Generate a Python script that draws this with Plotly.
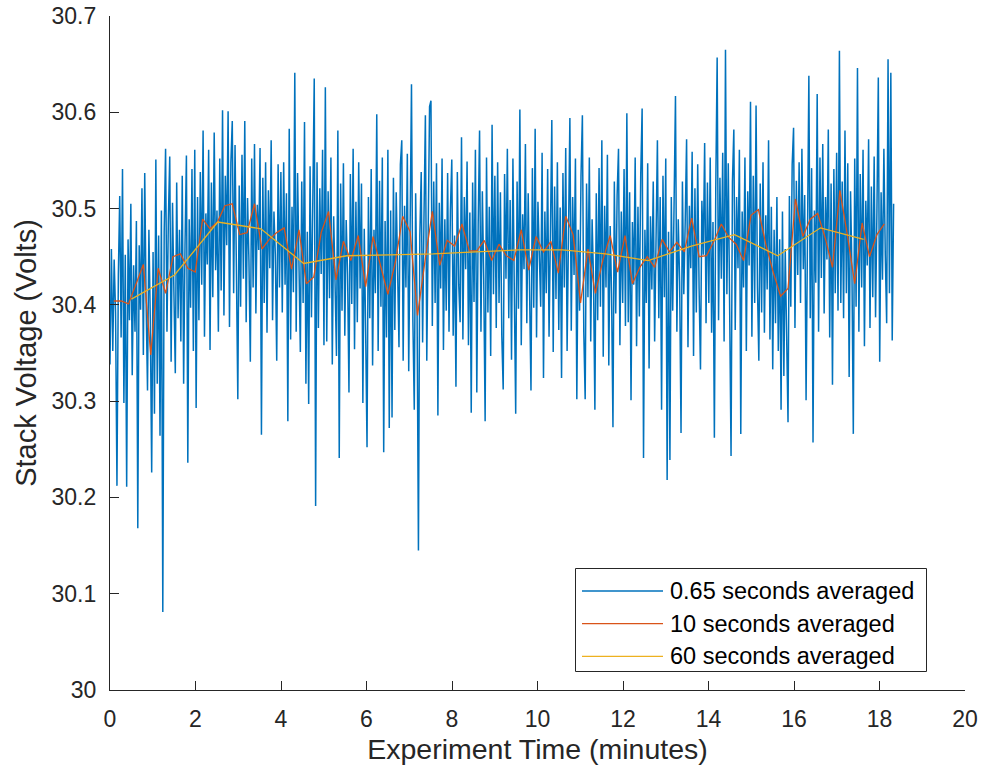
import numpy as np
import plotly.graph_objects as go

# ---------------------------------------------------------------------------
# Stack voltage record (volts). Raw trace points are spaced 1.95 s apart.
# ---------------------------------------------------------------------------
raw_step_min = 1.95 / 60.0
raw_volts = [
    # 0 - 1 min
    30.338, 30.458, 30.352, 30.447, 30.392, 30.212, 30.431, 30.513, 30.366, 30.541,
    30.298, 30.452, 30.211, 30.468, 30.384, 30.505, 30.327, 30.441, 30.372, 30.487,
    30.168, 30.462, 30.395, 30.521, 30.348, 30.537, 30.402, 30.311, 30.478, 30.386, 30.226,
    # 1 - 2 min
    30.455, 30.287, 30.551, 30.318, 30.472, 30.264, 30.498, 30.081, 30.476, 30.562,
    30.372, 30.488, 30.554, 30.341, 30.506, 30.413, 30.329, 30.527, 30.386, 30.478,
    30.362, 30.534, 30.318, 30.463, 30.555, 30.236, 30.489, 30.397, 30.541, 30.352, 30.561,
    # 2 - 3 min
    30.293, 30.512, 30.384, 30.538, 30.421, 30.581, 30.367, 30.495, 30.442, 30.561,
    30.353, 30.527, 30.408, 30.579, 30.436, 30.498, 30.372, 30.552, 30.415, 30.602,
    30.389, 30.534, 30.462, 30.601, 30.377, 30.548, 30.591, 30.412, 30.566, 30.438, 30.302,
    # 3 - 4 min
    30.524, 30.398, 30.556, 30.427, 30.591, 30.382, 30.511, 30.446, 30.341, 30.552,
    30.418, 30.567, 30.391, 30.504, 30.457, 30.563, 30.265, 30.532, 30.402, 30.548,
    30.371, 30.519, 30.438, 30.571, 30.384, 30.497, 30.452, 30.342, 30.546, 30.418, 30.538,
    # 4 - 5 min
    30.392, 30.548, 30.421, 30.516, 30.279, 30.583, 30.364, 30.502, 30.413, 30.641,
    30.372, 30.537, 30.446, 30.351, 30.528, 30.402, 30.590, 30.318, 30.476, 30.297,
    30.544, 30.387, 30.512, 30.635, 30.191, 30.548, 30.376, 30.521, 30.432, 30.561, 30.358,
    # 5 - 6 min
    30.626, 30.362, 30.518, 30.407, 30.553, 30.338, 30.492, 30.421, 30.347, 30.581,
    30.241, 30.526, 30.394, 30.547, 30.368, 30.488, 30.432, 30.309, 30.536, 30.401,
    30.562, 30.354, 30.507, 30.382, 30.548, 30.417, 30.526, 30.298, 30.479, 30.372, 30.252,
    # 6 - 7 min
    30.512, 30.386, 30.541, 30.337, 30.478, 30.412, 30.598, 30.352, 30.529, 30.398,
    30.553, 30.247, 30.487, 30.366, 30.561, 30.272, 30.498, 30.283, 30.532, 30.374,
    30.517, 30.408, 30.356, 30.546, 30.571, 30.342, 30.503, 30.418, 30.557, 30.331, 30.494,
    # 7 - 8 min
    30.629, 30.384, 30.291, 30.516, 30.398, 30.145, 30.472, 30.538, 30.361, 30.492,
    30.597, 30.342, 30.451, 30.606, 30.612, 30.378, 30.528, 30.402, 30.547, 30.285,
    30.506, 30.417, 30.552, 30.353, 30.489, 30.394, 30.537, 30.372, 30.498, 30.551, 30.368,
    # 8 - 9 min
    30.472, 30.315, 30.538, 30.421, 30.382, 30.574, 30.364, 30.512, 30.437, 30.549,
    30.358, 30.496, 30.288, 30.527, 30.403, 30.561, 30.309, 30.484, 30.581, 30.372,
    30.518, 30.426, 30.279, 30.553, 30.392, 30.502, 30.347, 30.587, 30.411, 30.534, 30.376,
    # 9 - 10 min
    30.548, 30.402, 30.517, 30.368, 30.312, 30.536, 30.427, 30.562, 30.386, 30.509,
    30.343, 30.552, 30.414, 30.287, 30.528, 30.396, 30.603, 30.358, 30.494, 30.437,
    30.567, 30.381, 30.516, 30.428, 30.311, 30.542, 30.397, 30.583, 30.366, 30.507, 30.442,
    # 10 - 11 min
    30.398, 30.558, 30.324, 30.497, 30.412, 30.541, 30.367, 30.476, 30.592, 30.351,
    30.523, 30.406, 30.548, 30.374, 30.501, 30.324, 30.537, 30.418, 30.563, 30.352,
    30.486, 30.594, 30.373, 30.512, 30.431, 30.552, 30.302, 30.478, 30.394, 30.534, 30.597,
    # 11 - 12 min
    30.372, 30.302, 30.526, 30.408, 30.553, 30.362, 30.489, 30.427, 30.291, 30.516,
    30.384, 30.542, 30.398, 30.571, 30.346, 30.503, 30.418, 30.556, 30.337, 30.482,
    30.412, 30.273, 30.528, 30.391, 30.514, 30.562, 30.358, 30.497, 30.402, 30.541, 30.378,
    # 12 - 13 min
    30.599, 30.382, 30.517, 30.301, 30.486, 30.421, 30.553, 30.357, 30.502, 30.388,
    30.536, 30.604, 30.241, 30.478, 30.402, 30.547, 30.334, 30.492, 30.416, 30.528,
    30.362, 30.481, 30.571, 30.386, 30.512, 30.291, 30.534, 30.408, 30.552, 30.218, 30.476,
    # 13 - 14 min
    30.239, 30.512, 30.394, 30.538, 30.617, 30.372, 30.489, 30.424, 30.267, 30.528,
    30.411, 30.486, 30.572, 30.356, 30.503, 30.438, 30.559, 30.347, 30.521, 30.392,
    30.546, 30.417, 30.333, 30.508, 30.452, 30.568, 30.381, 30.527, 30.402, 30.553, 30.371,
    # 14 - 15 min
    30.486, 30.262, 30.521, 30.657, 30.384, 30.532, 30.427, 30.558, 30.362, 30.665,
    30.411, 30.547, 30.396, 30.243, 30.528, 30.582, 30.374, 30.512, 30.438, 30.561,
    30.266, 30.497, 30.418, 30.553, 30.352, 30.518, 30.441, 30.611, 30.367, 30.534, 30.402,
    # 15 - 16 min
    30.607, 30.418, 30.342, 30.526, 30.392, 30.548, 30.371, 30.493, 30.416, 30.571,
    30.364, 30.502, 30.333, 30.478, 30.381, 30.512, 30.352, 30.468, 30.291, 30.497,
    30.326, 30.458, 30.372, 30.278, 30.513, 30.398, 30.546, 30.584, 30.376, 30.529, 30.431,
    # 16 - 17 min
    30.548, 30.402, 30.562, 30.437, 30.514, 30.301, 30.527, 30.638, 30.386, 30.542,
    30.257, 30.498, 30.423, 30.619, 30.372, 30.553, 30.428, 30.567, 30.391, 30.512,
    30.447, 30.582, 30.366, 30.526, 30.317, 30.541, 30.412, 30.558, 30.394, 30.664, 30.402,
    # 17 - 18 min
    30.528, 30.386, 30.581, 30.412, 30.547, 30.325, 30.518, 30.436, 30.266, 30.552,
    30.398, 30.646, 30.372, 30.536, 30.418, 30.561, 30.357, 30.508, 30.441, 30.572,
    30.376, 30.523, 30.408, 30.554, 30.387, 30.498, 30.636, 30.341, 30.517, 30.426, 30.562,
    # 18 min - end
    30.452, 30.381, 30.655, 30.412, 30.641, 30.363, 30.505,
]

# 10-second block averages (16 samples of 0.65 s), plotted at block centres
avg10_step_min = 10.4 / 60.0
avg10_volts = [
    30.404, 30.404, 30.401, 30.421, 30.442, 30.348, 30.438, 30.412, 30.450, 30.453,
    30.438, 30.434, 30.489, 30.479, 30.486, 30.503, 30.505, 30.473, 30.475, 30.505,
    30.458, 30.468, 30.475, 30.480, 30.437, 30.478, 30.422, 30.429, 30.475, 30.497,
    30.426, 30.466, 30.446, 30.472, 30.419, 30.471, 30.441, 30.411, 30.444, 30.492,
    30.476, 30.389, 30.445, 30.497, 30.441, 30.467, 30.461, 30.484, 30.456, 30.456,
    30.467, 30.446, 30.463, 30.451, 30.446, 30.478, 30.436, 30.471, 30.455, 30.466,
    30.433, 30.492, 30.473, 30.402, 30.458, 30.412, 30.446, 30.472, 30.434, 30.472,
    30.422, 30.439, 30.450, 30.439, 30.468, 30.455, 30.465, 30.455, 30.490, 30.450,
    30.451, 30.466, 30.484, 30.470, 30.463, 30.446, 30.493, 30.499, 30.463, 30.434,
    30.409, 30.417, 30.510, 30.471, 30.489, 30.495, 30.470, 30.439, 30.519, 30.473,
    30.422, 30.485, 30.450, 30.473, 30.484,
]

# 60-second block averages
avg60_minutes = [0.50, 1.51, 2.52, 3.53, 4.53, 5.54, 6.55, 7.56, 8.56,
                 9.57, 10.58, 11.59, 12.59, 13.60, 14.61, 15.62, 16.62, 17.63]
avg60_volts = [30.406, 30.431, 30.486, 30.479, 30.443, 30.451, 30.452, 30.453, 30.455,
               30.457, 30.457, 30.453, 30.446, 30.461, 30.473, 30.451, 30.480, 30.468]

series_names = ["0.65 seconds averaged", "10 seconds averaged", "60 seconds averaged"]
series_colors = ["#0072BD", "#D95319", "#EDB120"]
series_widths = [1.5, 1.3, 1.3]

x_ticks = [0, 2, 4, 6, 8, 10, 12, 14, 16, 18, 20]
y_ticks = [30, 30.1, 30.2, 30.3, 30.4, 30.5, 30.6, 30.7]

raw_minutes = np.arange(len(raw_volts)) * raw_step_min
avg10_minutes = (np.arange(len(avg10_volts)) + 0.5) * avg10_step_min

AXIS_COLOR = "#262626"
FONT = "Liberation Sans, Arial, Helvetica, sans-serif"

fig = go.Figure()
for xs, ys, name, color, width in zip(
    [raw_minutes, avg10_minutes, avg60_minutes],
    [raw_volts, avg10_volts, avg60_volts],
    series_names, series_colors, series_widths,
):
    fig.add_trace(go.Scatter(x=xs, y=ys, mode="lines", name=name,
                             line=dict(color=color, width=width),
                             showlegend=False, hoverinfo="x+y"))

# Plot-area geometry (pixels) used to place the boxed legend
W, H = 984, 775
ML, MR, MT, MB = 110, 19, 16, 85
PW, PH = W - ML - MR, H - MT - MB


def px_x(x):
    return (x - ML) / PW


def px_y(y):
    return (H - MB - y) / PH


shapes = [dict(type="rect", xref="paper", yref="paper",
               x0=px_x(575.5), x1=px_x(926.5), y0=px_y(671.5), y1=px_y(568.5),
               line=dict(color=AXIS_COLOR, width=1), fillcolor="white", layer="above")]
annotations = []
for i, (name, color) in enumerate(zip(series_names, series_colors)):
    row_y = px_y(591 + 32.7 * i)
    shapes.append(dict(type="line", xref="paper", yref="paper",
                       x0=px_x(582), x1=px_x(663), y0=row_y, y1=row_y,
                       line=dict(color=color, width=1.3), layer="above"))
    annotations.append(dict(xref="paper", yref="paper", x=px_x(668), y=row_y,
                            xanchor="left", yanchor="middle", showarrow=False,
                            text=name, font=dict(family=FONT, size=23.5, color="#000000")))

axis_common = dict(showline=True, linecolor=AXIS_COLOR, linewidth=1.3,
                   ticks="inside", ticklen=9, tickwidth=1.3, tickcolor=AXIS_COLOR,
                   showgrid=False, zeroline=False, mirror=False, automargin=False,
                   tickfont=dict(family=FONT, size=23, color=AXIS_COLOR))

fig.update_layout(
    width=W, height=H,
    margin=dict(l=ML, r=MR, t=MT, b=MB),
    paper_bgcolor="white", plot_bgcolor="white",
    showlegend=False,
    font=dict(family=FONT, color=AXIS_COLOR),
    xaxis=dict(range=[0, 20], tickvals=x_ticks, ticklabelstandoff=8,
               title=dict(text="Experiment Time (minutes)", standoff=8,
                          font=dict(family=FONT, size=28.5, color=AXIS_COLOR)),
               **axis_common),
    yaxis=dict(range=[30, 30.7], tickvals=y_ticks, ticklabelstandoff=8,
               title=dict(text="Stack Voltage (Volts)", standoff=6,
                          font=dict(family=FONT, size=29, color=AXIS_COLOR)),
               **axis_common),
    shapes=shapes,
    annotations=annotations,
)

fig.write_html("out.html")
